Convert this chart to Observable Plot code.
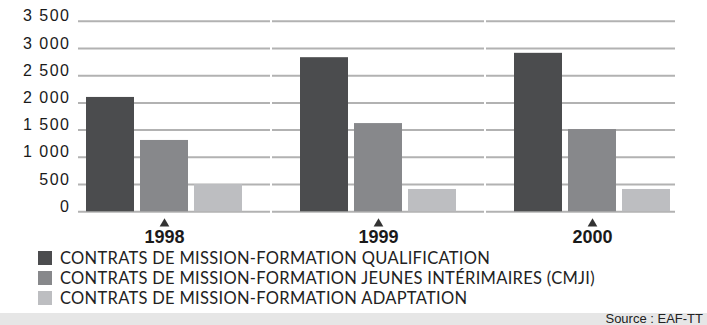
<!DOCTYPE html>
<html>
<head>
<meta charset="utf-8">
<script src="https://cdn.jsdelivr.net/npm/d3@7"></script>
<script src="https://cdn.jsdelivr.net/npm/@observablehq/plot@0.6"></script>
<style>
  html, body { margin: 0; padding: 0; background: #fff; }
  #wrap { position: relative; width: 707px; height: 325px; overflow: hidden; }
  #chart { position: absolute; left: 0; top: 0; }
  #legend { position: absolute; left: 38px; top: 248px; font-family: Lato, "Open Sans", sans-serif; font-size: 16.5px; line-height: 19px; color: #222; }
  .row { display: flex; align-items: center; height: 20px; white-space: nowrap; }
  .row span { line-height: 19px; }
  .sw { width: 14px; height: 14px; margin-right: 8px; flex: none; }
  #source { position: absolute; left: 0; top: 313px; width: 707px; height: 12px; background: #e6e6e6; }
  #source span { position: absolute; right: 4px; top: -1px; font-family: "Liberation Sans", Arial, sans-serif; font-size: 13px; color: #222; line-height: 13px; }
</style>
</head>
<body>
<div id="wrap">
  <div id="chart"></div>
  <div id="legend"></div>
  <div id="source"><span>Source : EAF-TT</span></div>
</div>
<script>
const years = ["1998", "1999", "2000"];
const series = [
  "CONTRATS DE MISSION-FORMATION QUALIFICATION",
  "CONTRATS DE MISSION-FORMATION JEUNES INTÉRIMAIRES (CMJI)",
  "CONTRATS DE MISSION-FORMATION ADAPTATION"
];
const colors = ["#4b4c4e", "#87888b", "#bdbec1"];
const qualification = [2100, 2830, 2910];
const cmji = [1310, 1620, 1510];
const adaptation = [500, 410, 410];
const yTicks = [0, 500, 1000, 1500, 2000, 2500, 3000, 3500];

const valuesBySeries = [qualification, cmji, adaptation];
const data = [];
years.forEach((yr, i) => {
  series.forEach((s, j) => data.push({year: yr, series: s, value: valuesBySeries[j][i]}));
});

const fmt = d => d >= 1000 ? `${Math.floor(d / 1000)} ${String(d % 1000).padStart(3, "0")}` : String(d);

// gridlines: one rule mark per facet so they run continuously across the gaps
const gridInsets = [[-7, -27], [-27, -27], [-27, -4]];
const gridMarks = years.map((yr, i) => Plot.ruleY(yTicks, {
  fx: () => yr, stroke: "#b2b2b2", strokeWidth: 2,
  insetLeft: gridInsets[i][0], insetRight: gridInsets[i][1]
}));

const plot = Plot.plot({
  width: 707,
  height: 250,
  marginTop: 20.7,
  marginBottom: 38.7,
  marginLeft: 85,
  marginRight: 35,
  style: {fontFamily: "'Liberation Sans', Arial, sans-serif", background: "transparent", overflow: "visible"},
  fx: {domain: years, paddingInner: 0.26, paddingOuter: 0, axis: null, label: null},
  x: {domain: series, paddingInner: 0.11, paddingOuter: 0, axis: null, label: null},
  y: {domain: [0, 3500], axis: null, label: null},
  color: {domain: series, range: colors},
  marks: [
    ...gridMarks,
    Plot.axisY(yTicks, {anchor: "left", tickSize: 0, tickPadding: 15, tickFormat: fmt, label: null,
      fontSize: 16, fill: "#1a1a1a", dy: -5}),
    Plot.barY(data, {fx: "year", x: "series", y: "value", fill: "series"}),
    Plot.dot(years, {fx: d => d, frameAnchor: "bottom", symbol: "triangle", r: 3.6, fill: "#333", dy: 12}),
    Plot.text(years, {fx: d => d, frameAnchor: "bottom", text: d => d, dy: 31.5, fontSize: 18, fontWeight: "bold", fill: "#1a1a1a"})
  ]
});
d3.select(plot).selectAll("g[aria-label='y-axis tick label']").style("letter-spacing", "1.5px");
document.getElementById("chart").appendChild(plot);

const legend = d3.select("#legend");
const spans = [];
series.forEach((s, j) => {
  const row = legend.append("div").attr("class", "row");
  row.append("div").attr("class", "sw").style("background", colors[j]);
  spans.push(row.append("span").text(s).node());
});
// stretch the legend text to the width of the reference's first line (430px)
const w0 = spans[0].getBoundingClientRect().width;
const ls = (430 - w0) / series[0].length;
if (ls > 0) spans.forEach(sp => sp.style.letterSpacing = ls.toFixed(2) + "px");
</script>
</body>
</html>
